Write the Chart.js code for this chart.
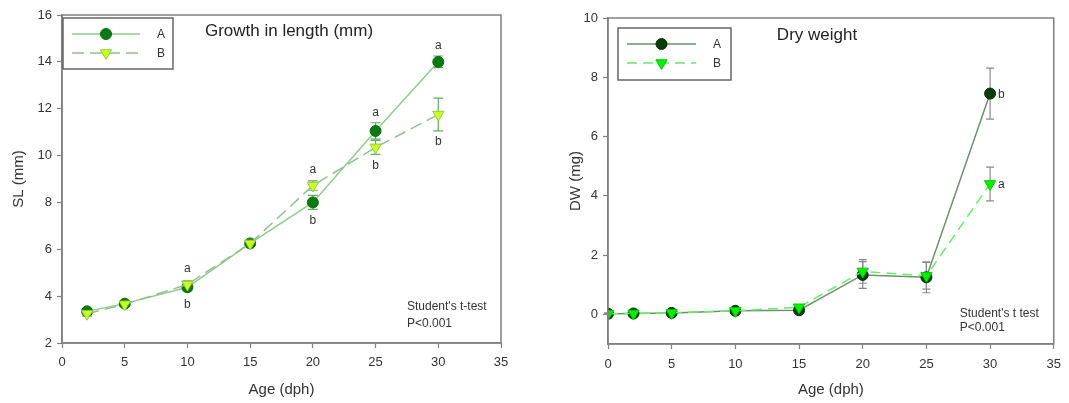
<!DOCTYPE html>
<html>
<head>
<meta charset="utf-8">
<script src="https://cdn.jsdelivr.net/npm/chart.js@4.4.1/dist/chart.umd.min.js"></script>
<style>
  html, body { margin: 0; padding: 0; background: #fff; width: 1069px; height: 403px; overflow: hidden; }
  canvas { position: absolute; top: 0; }
  #grafica-sl { left: 0; }
  #grafica-dw { left: 540px; }
</style>
</head>
<body>
<canvas id="grafica-sl" width="530" height="403"></canvas>
<canvas id="grafica-dw" width="529" height="403"></canvas>
<script>
/* --- Datos: crecimiento en longitud (SL, mm) ------------------------------ */
const edadSL = [2, 5, 10, 15, 20, 25, 30];
const slA = [3.35, 3.68, 4.38, 6.25, 8.0, 11.05, 14.0];
const slB = [3.25, 3.65, 4.5, 6.25, 8.72, 10.35, 11.75];
const slErrA = [0.1, 0.1, 0.15, 0.1, 0.3, 0.35, 0.25];
const slErrB = [0.1, 0.1, 0.15, 0.1, 0.2, 0.3, 0.7];
const slLetrasA = ['', '', 'b', '', 'b', 'a', 'a'];
const slLetrasB = ['', '', 'a', '', 'a', 'b', 'b'];

/* --- Datos: peso seco (DW, mg) --------------------------------------------- */
const edadDW = [0, 2, 5, 10, 15, 20, 25, 30];
const dwA = [0.02, 0.03, 0.05, 0.12, 0.14, 1.33, 1.25, 7.45];
const dwB = [0.02, 0.03, 0.05, 0.12, 0.24, 1.45, 1.3, 4.4];
const dwErrA = [0.02, 0.02, 0.03, 0.04, 0.05, 0.45, 0.52, 0.86];
const dwErrB = [0.02, 0.02, 0.03, 0.04, 0.06, 0.4, 0.45, 0.57];
const dwLetrasA = ['', '', '', '', '', '', '', 'b'];
const dwLetrasB = ['', '', '', '', '', '', '', 'a'];

/* --- Ticks ----------------------------------------------------------------- */
const ticksEdad = [0, 5, 10, 15, 20, 25, 30, 35];
const ticksSL = [2, 4, 6, 8, 10, 12, 14, 16];
const ticksDW = [0, 2, 4, 6, 8, 10];

const FUENTE = "'Liberation Sans', Arial, sans-serif";
const TEXTO = '#333';
const EJE = '#808080';

function puntos(xs, ys) {
  return xs.map((x, i) => ({ x, y: ys[i] }));
}

/* Marco, barras de error, letras, leyenda y notas */
const extras = {
  id: 'extras',
  beforeDatasetsDraw(chart, args, o) {
    const ctx = chart.ctx;
    const sx = chart.scales.x, sy = chart.scales.y;
    ctx.save();
    ctx.lineWidth = 1.2;
    o.errores.forEach((errs, d) => {
      ctx.strokeStyle = o.colorError[d];
      const ds = chart.data.datasets[d].data;
      ds.forEach((p, i) => {
        const px = sx.getPixelForValue(p.x);
        const y1 = sy.getPixelForValue(p.y + errs[i]);
        const y2 = sy.getPixelForValue(p.y - errs[i]);
        ctx.beginPath();
        ctx.moveTo(px, y1); ctx.lineTo(px, y2);
        ctx.moveTo(px - o.tapa, y1); ctx.lineTo(px + o.tapa, y1);
        ctx.moveTo(px - o.tapa, y2); ctx.lineTo(px + o.tapa, y2);
        ctx.stroke();
      });
    });
    ctx.restore();
  },
  afterDraw(chart, args, o) {
    const ctx = chart.ctx;
    const a = chart.chartArea;
    const sx = chart.scales.x, sy = chart.scales.y;
    ctx.save();

    // marco completo
    ctx.strokeStyle = EJE;
    ctx.lineWidth = 1.5;
    ctx.strokeRect(a.left, a.top, a.right - a.left, a.bottom - a.top);

    // letras de significancia
    ctx.fillStyle = TEXTO;
    ctx.font = `12px ${FUENTE}`;
    ctx.textBaseline = 'middle';
    const sets = chart.data.datasets;
    o.letras.forEach((letras, d) => {
      const otro = sets[1 - d].data;
      sets[d].data.forEach((p, i) => {
        if (!letras[i]) return;
        const px = sx.getPixelForValue(p.x);
        const py = sy.getPixelForValue(p.y);
        if (o.modoLetra === 'derecha') {
          ctx.textAlign = 'left';
          ctx.fillText(letras[i], px + 8, py + 1);
          return;
        }
        ctx.textAlign = 'center';
        const e = o.errores[d][i];
        if (p.y >= otro[i].y) {
          const tope = Math.min(py - 6, sy.getPixelForValue(p.y + e));
          ctx.fillText(letras[i], px, tope - 10);
        } else {
          const base = Math.max(py + 6, sy.getPixelForValue(p.y - e));
          ctx.fillText(letras[i], px, base + 11);
        }
      });
    });

    // título dentro del área
    ctx.font = `17px ${FUENTE}`;
    ctx.textAlign = 'center';
    ctx.fillStyle = '#222';
    ctx.fillText(o.titulo, o.tituloPos[0], o.tituloPos[1]);

    // nota estadística
    ctx.font = `12px ${FUENTE}`;
    ctx.textAlign = 'left';
    ctx.fillStyle = TEXTO;
    o.nota.forEach((t, k) => ctx.fillText(t, a.right - 94, a.bottom - o.notaY[k]));

    // leyenda
    const L = o.leyenda;
    ctx.strokeStyle = '#666';
    ctx.lineWidth = 1.5;
    ctx.strokeRect(L.x, L.y, L.w, L.h);
    sets.forEach((ds, d) => {
      const fy = L.y + L.filas[d];
      ctx.strokeStyle = ds.borderColor;
      ctx.lineWidth = ds.borderWidth;
      ctx.setLineDash(ds.borderDash || []);
      ctx.beginPath();
      ctx.moveTo(L.x + L.linea[0], fy);
      ctx.lineTo(L.x + L.linea[1], fy);
      ctx.stroke();
      ctx.setLineDash([]);
      ctx.fillStyle = ds.pointBackgroundColor;
      ctx.strokeStyle = ds.pointBorderColor;
      ctx.lineWidth = ds.pointBorderWidth;
      Chart.helpers.drawPoint(ctx, {
        pointStyle: ds.pointStyle, radius: ds.pointRadius,
        rotation: ds.pointRotation || 0, borderWidth: ds.pointBorderWidth,
      }, L.x + (L.linea[0] + L.linea[1]) / 2, fy);
      ctx.fillStyle = TEXTO;
      ctx.font = `12px ${FUENTE}`;
      ctx.textAlign = 'center';
      ctx.fillText(ds.label, L.x + L.texto, fy + 1);
    });
    ctx.restore();
  },
};

function ejes(cfg) {
  const fijar = (lista) => (s) => { s.ticks = lista.map(v => ({ value: v })); };
  const comun = {
    type: 'linear',
    grid: { drawOnChartArea: false, drawTicks: true, tickLength: 5, color: EJE, tickColor: EJE, tickWidth: 1.2 },
    border: { display: true, color: EJE, width: 1.5 },
  };
  return {
    x: {
      ...comun, position: 'bottom', min: 0, max: 35,
      afterBuildTicks: fijar(ticksEdad),
      afterFit: (s) => { s.height = cfg.altoX; },
      ticks: { color: TEXTO, font: { family: FUENTE, size: 13 }, padding: cfg.padX, maxRotation: 0 },
      title: { display: true, text: 'Age (dph)', color: TEXTO, font: { family: FUENTE, size: 15 }, padding: { top: 4, bottom: 4 } },
    },
    y: {
      ...comun, position: 'left', min: cfg.minY, max: cfg.maxY,
      afterBuildTicks: fijar(cfg.ticksY),
      afterFit: (s) => { s.width = cfg.anchoY; },
      ticks: { color: TEXTO, font: { family: FUENTE, size: 13 }, padding: 5 },
      title: { display: true, text: cfg.tituloY, color: TEXTO, font: { family: FUENTE, size: 15 }, padding: { top: cfg.padTituloY, bottom: 0 } },
    },
  };
}

function serie(label, data, st) {
  return {
    label, data, showLine: true,
    borderColor: st.linea, borderWidth: 1.5, borderDash: st.dash,
    pointStyle: st.forma, pointRotation: st.rot || 0, pointRadius: st.r,
    pointBackgroundColor: st.relleno, pointBorderColor: st.borde, pointBorderWidth: 1,
    order: st.orden,
  };
}

/* --- Gráfica izquierda: SL ------------------------------------------------- */
new Chart(document.getElementById('grafica-sl'), {
  type: 'scatter',
  data: {
    datasets: [
      serie('A', puntos(edadSL, slA), { linea: '#8fcb8f', forma: 'circle', r: 5.5, relleno: '#0c7a12', borde: '#0a6a0f', orden: 1 }),
      serie('B', puntos(edadSL, slB), { linea: '#8fc08f', dash: [12, 6], forma: 'triangle', rot: 180, r: 6.5, relleno: '#ccff22', borde: '#8fcf3a', orden: 0 }),
    ],
  },
  options: {
    responsive: false, animation: false,
    layout: { padding: { left: 0, top: 15, right: 29, bottom: 0 } },
    scales: ejes({ altoX: 60, padX: 7, minY: 2, maxY: 16, ticksY: ticksSL, anchoY: 62, tituloY: 'SL (mm)', padTituloY: 10 }),
    plugins: {
      legend: { display: false }, tooltip: { enabled: false },
      extras: {
        errores: [slErrA, slErrB], colorError: ['#5fae5f', '#5fae5f'], tapa: 5,
        letras: [slLetrasA, slLetrasB], modoLetra: 'vertical',
        titulo: 'Growth in length (mm)', tituloPos: [289, 31],
        nota: ["Student's t-test", 'P<0.001'], notaY: [36, 19],
        leyenda: { x: 63, y: 18, w: 110, h: 51, filas: [16, 35], linea: [9, 77], texto: 98 },
      },
    },
  },
  plugins: [extras],
});

/* --- Gráfica derecha: DW --------------------------------------------------- */
new Chart(document.getElementById('grafica-dw'), {
  type: 'scatter',
  data: {
    datasets: [
      serie('A', puntos(edadDW, dwA), { linea: '#6f8f6f', forma: 'circle', r: 5.5, relleno: '#0b3d0b', borde: '#072d07', orden: 1 }),
      serie('B', puntos(edadDW, dwB), { linea: '#66ee66', dash: [10, 6], forma: 'triangle', rot: 180, r: 6.5, relleno: '#00f000', borde: '#00c800', orden: 0 }),
    ],
  },
  options: {
    responsive: false, animation: false,
    layout: { padding: { left: 0, top: 18, right: 14, bottom: 0 } },
    scales: ejes({ altoX: 59, padX: 8, minY: -1, maxY: 10, ticksY: ticksDW, anchoY: 68, tituloY: 'DW (mg)', padTituloY: 27 }),
    plugins: {
      legend: { display: false }, tooltip: { enabled: false },
      extras: {
        errores: [dwErrA, dwErrB], colorError: ['#8a8a8a', '#8a8a8a'], tapa: 4,
        letras: [dwLetrasA, dwLetrasB], modoLetra: 'derecha',
        titulo: 'Dry weight', tituloPos: [277, 35],
        nota: ["Student's t test", 'P<0.001'], notaY: [30, 16],
        leyenda: { x: 78, y: 28, w: 113, h: 52, filas: [16, 35], linea: [9, 78], texto: 99 },
      },
    },
  },
  plugins: [extras],
});
</script>
</body>
</html>
